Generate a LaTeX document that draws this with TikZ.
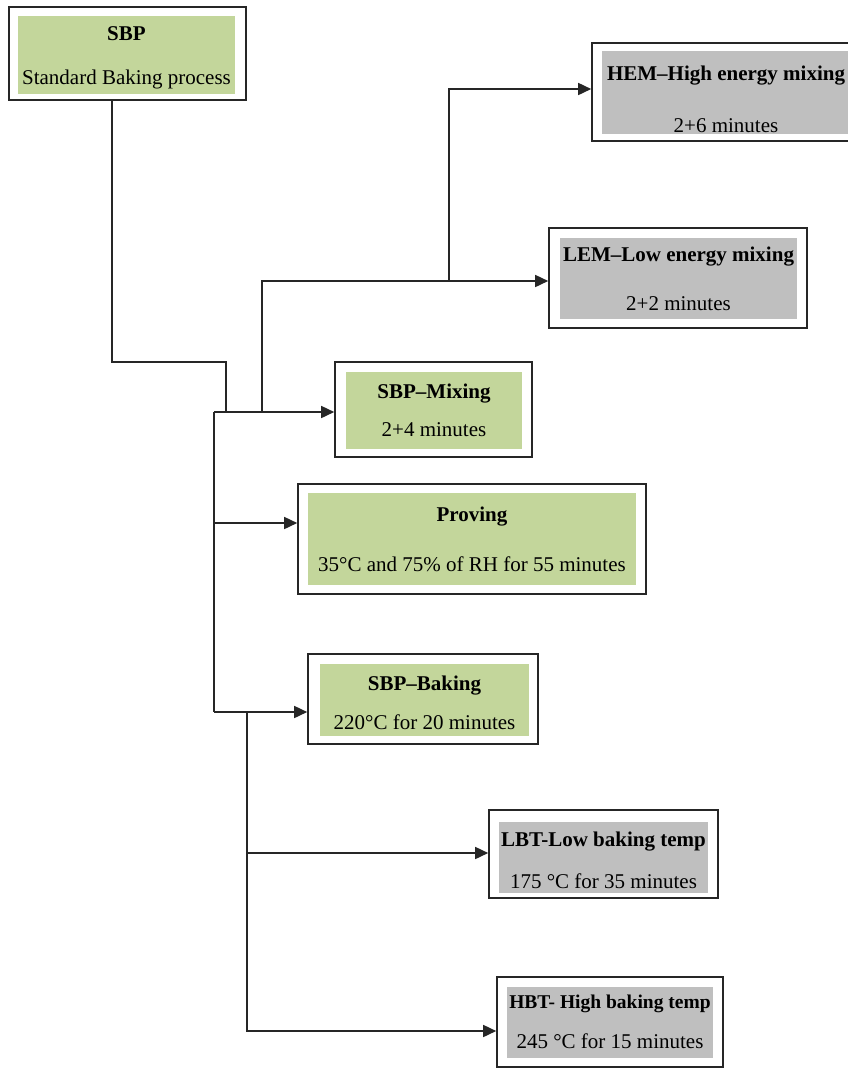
\documentclass[tikz,border=0pt]{standalone}
\usepackage{fontspec}
\setmainfont{Liberation Serif}
\usepackage{xcolor}
\usetikzlibrary{positioning,arrows.meta}
\definecolor{sbpgreen}{HTML}{C3D69B}
\definecolor{boxgray}{HTML}{BFBFBF}

\begin{document}
\begin{tikzpicture}[x=1pt, y=-1pt, font=\fontsize{21}{24}\selectfont,
		frame/.style={draw=black!85, line width=1.6pt, fill=white, inner sep=0pt},
		card/.style={inner sep=1pt, align=center},
		wire/.style={draw=black!85, line width=1.6pt},
		arr/.style={wire, -{Triangle[length=13pt,width=12pt]}}]
		\useasboundingbox (0,0) rectangle (848,1069);

		% boxes
		\node[frame, minimum width=237pt, minimum height=93pt] (sbp) at (127.5,53.5) {};
		\node[card, fill=sbpgreen, minimum width=217pt, minimum height=78pt] (sbptxt) at (126.5,55) {\rule{0pt}{20pt}\textbf{SBP}\\[20pt]Standard Baking process};

		\node[frame, minimum width=268pt, minimum height=98pt] (hem) at (726,92) {};
		\node[card, fill=boxgray, minimum width=248pt, minimum height=81pt] (hemtxt) at (726,92.5) {\rule{0pt}{29pt}\textbf{HEM--High energy mixing}\\[28pt]2+6 minutes};

		\node[frame, minimum width=258pt, minimum height=100pt] (lem) at (678,278) {};
		\node[card, fill=boxgray, minimum width=237pt, minimum height=81pt] (lemtxt) at (678.5,278.5) {\textbf{LEM--Low energy mixing}\\[25pt]2+2 minutes};

		\node[frame, minimum width=197pt, minimum height=95pt] (mix) at (433.5,409.5) {};
		\node[card, fill=sbpgreen, minimum width=176pt, minimum height=77pt] (mixtxt) at (434,410) {\textbf{SBP--Mixing}\\[14pt]2+4 minutes};

		\node[frame, minimum width=348pt, minimum height=110pt] (prov) at (472,539) {};
		\node[card, fill=sbpgreen, minimum width=328pt, minimum height=92pt] (provtxt) at (472,539) {\textbf{Proving}\\[26pt]35°C and 75\% of RH for 55 minutes};

		\node[frame, minimum width=230pt, minimum height=90pt] (bake) at (423,699) {};
		\node[card, fill=sbpgreen, minimum width=209pt, minimum height=72pt] (baketxt) at (424.5,700) {\rule{0pt}{20pt}\textbf{SBP--Baking}\\[15pt]220°C for 20 minutes};

		\node[frame, minimum width=229pt, minimum height=88pt] (lbt) at (603.5,854) {};
		\node[card, fill=boxgray, minimum width=209pt, minimum height=71pt] (lbttxt) at (603.5,857) {\rule{0pt}{22pt}\textbf{LBT-Low baking temp}\\[18pt]175 °C for 35 minutes};

		\node[frame, minimum width=226pt, minimum height=90pt] (hbt) at (610,1022) {};
		\node[card, fill=boxgray, minimum width=206pt, minimum height=71pt] (hbttxt) at (610,1022) {\textbf{\fontsize{19.5}{24}\selectfont HBT- High baking temp}\\[16pt]245 °C for 15 minutes};

		% junctions
		\coordinate (bend) at (112,362);
		\coordinate (drop) at (226,412);
		\coordinate (spine) at (214,412);
		\coordinate (spineend) at (214,712);
		\coordinate (provin) at (214,523);
		\coordinate (mixup) at (262,412);
		\coordinate (lemin) at (262,281);
		\coordinate (hemup) at (449,281);
		\coordinate (hemin) at (449,89);
		\coordinate (bakedown) at (247,712);
		\coordinate (lbtin) at (247,853);
		\coordinate (hbtin) at (247,1031);

		% connectors
		\draw[wire] (sbp.south -| bend) -- (bend) -| (drop);
		\draw[arr] (spine) -- (mix.west |- spine);
		\draw[wire] (spine) -- (spineend);
		\draw[arr] (provin) -- (prov.west |- provin);
		\draw[arr] (spineend) -- (bake.west |- spineend);
		\draw[arr] (mixup) -- (lemin) -- (lem.west |- lemin);
		\draw[arr] (hemup) -- (hemin) -- (hem.west |- hemin);
		\draw[wire] (bakedown) -- (lbtin);
		\draw[arr] (lbtin) -- (lbt.west |- lbtin);
		\draw[arr] (lbtin) -- (hbtin) -- (hbt.west |- hbtin);
	\end{tikzpicture}
\end{document}
